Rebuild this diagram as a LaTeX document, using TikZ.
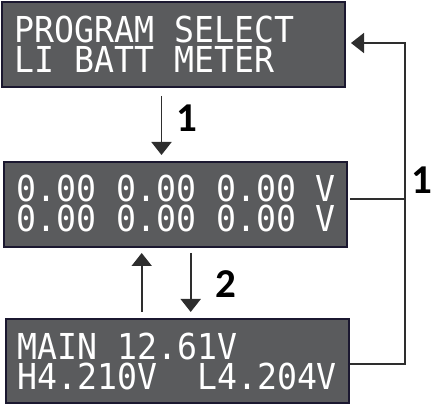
\documentclass[tikz,border=0pt]{standalone}
\usepackage{fontspec}
\usetikzlibrary{arrows.meta,calc}
\newfontfamily\lcdfont[FakeStretch=0.93]{DejaVu Sans Mono}
\newfontfamily\labfont{Carlito}
\definecolor{lcdbg}{HTML}{5A5B5D}
\definecolor{lcdedge}{HTML}{1B1830}
\definecolor{wire}{HTML}{2E2E2E}
\begin{document}
\begin{tikzpicture}[x=1pt,y=-1pt,
  lcdbox/.style={draw=lcdedge,line width=2pt,fill=lcdbg,minimum width=343pt,minimum height=85pt,inner sep=0pt},
  lcdtext/.style={anchor=base west,inner sep=0pt,text=white,align=left,font=\lcdfont\fontsize{35.7}{30}\selectfont},
  conn/.style={draw=wire,line width=1.8pt},
  arr/.style={conn,-{Triangle[length=13pt,width=20pt]}},
  steplabel/.style={inner sep=0pt,font=\labfont\bfseries\fontsize{41}{43}\selectfont}]
\useasboundingbox (0,0) rectangle (432,406);
% boxes
\node[lcdbox] (box1) at (173.5,44.5) {};
\node[lcdbox] (box2) at (175.5,204.5) {};
\node[lcdbox,minimum height=84pt] (box3) at (177.5,361) {};
% texts (anchor = baseline of the last line)
\node[lcdtext] (t1) at (14,73) {PROGRAM SELECT\\LI BATT METER};
\node[lcdtext] (t2) at (16,232) {0.00 0.00 0.00 V\\0.00 0.00 0.00 V};
\node[lcdtext] (t3) at (17,390) {MAIN 12.61V\\H4.210V\ \ L4.204V};
% connector points
\coordinate (a1s) at (161.5,96);
\coordinate (a1e) at (161.5,155);
\coordinate (upS) at (141.7,312);
\coordinate (upE) at (141.7,253);
\coordinate (dnS) at (190.7,253);
\coordinate (dnE) at (190.7,312);
\coordinate (b3r) at (350,364);
\coordinate (b2r) at (350,199);
\coordinate (rtop) at (405,43);
\coordinate (b1r) at (351,43);
\coordinate (rbot) at (405,364);
\coordinate (rmid) at (405,199);
% connectors
\draw[arr] (a1s) -- (a1e);
\draw[arr] (upS) -- (upE);
\draw[arr] (dnS) -- (dnE);
\draw[conn] (b2r) -- (rmid);
\draw[arr] (b3r) -- (rbot) -- (rtop) -- (b1r);
% labels
\node[steplabel] (l1) at (187,118) {1};
\node[steplabel] (l2) at (226,284) {2};
\node[steplabel] (l3) at (422,180) {1};
\end{tikzpicture}
\end{document}
